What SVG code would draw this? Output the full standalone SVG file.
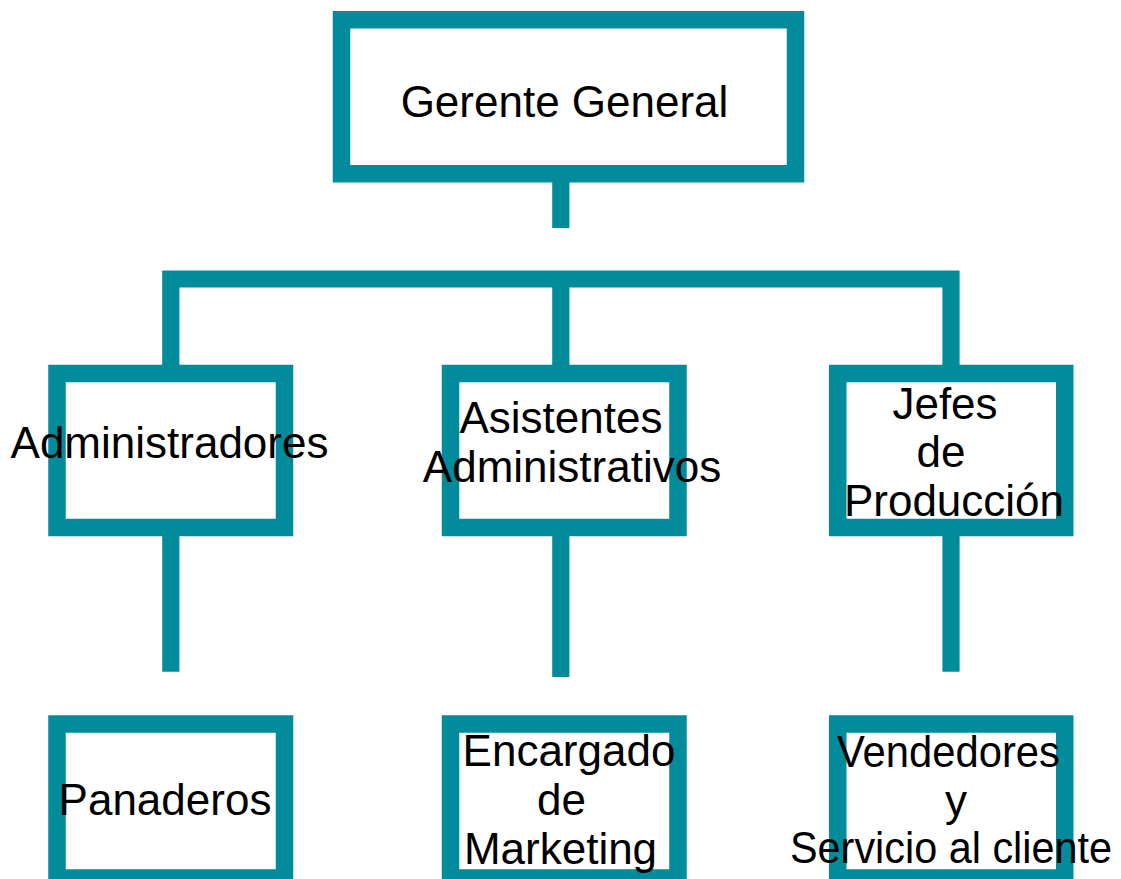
<svg xmlns="http://www.w3.org/2000/svg" width="1121" height="879" viewBox="0 0 1121 879">
<style>
.box{fill:#ffffff;stroke:#028B9B;stroke-width:17.5;}
.ln{fill:none;stroke:#028B9B;stroke-width:17.2;stroke-linejoin:miter;stroke-linecap:butt;}
.t{font-family:"Liberation Sans",Arial,sans-serif;font-size:44px;fill:#000000;text-anchor:middle;}
</style>
<rect width="1121" height="879" fill="#ffffff"/>
<g id="connectors">
<line class="ln" x1="560.8" y1="182" x2="560.8" y2="228"/>
<path class="ln" d="M170.8,365 V279 H951 V365"/>
<line class="ln" x1="560.8" y1="279" x2="560.8" y2="365"/>
<line class="ln" x1="170.8" y1="536" x2="170.8" y2="671.7"/>
<line class="ln" x1="560.8" y1="536" x2="560.8" y2="677"/>
<line class="ln" x1="951" y1="536" x2="951" y2="671.7"/>
</g>
<g id="gerente">
<rect class="box" x="341.5" y="19.75" width="454" height="154"/>
<text class="t" x="564.5" y="117">Gerente General</text>
</g>
<g id="administradores">
<rect class="box" x="57" y="373.5" width="227.5" height="154"/>
<text class="t" x="169.5" y="457.5">Administradores</text>
</g>
<g id="asistentes">
<rect class="box" x="450.5" y="373.5" width="227.5" height="154"/>
<text class="t" x="561" y="433">Asistentes</text>
<text class="t" x="572" y="482">Administrativos</text>
</g>
<g id="jefes">
<rect class="box" x="837.75" y="373.5" width="227" height="154"/>
<text class="t" x="945" y="418.5">Jefes</text>
<text class="t" x="941" y="467">de</text>
<text class="t" x="954" y="516">Producción</text>
</g>
<g id="panaderos">
<rect class="box" x="57" y="724" width="227.5" height="154"/>
<text class="t" x="165" y="814.5">Panaderos</text>
</g>
<g id="encargado">
<rect class="box" x="450.5" y="724" width="227.5" height="154"/>
<text class="t" x="569" y="766">Encargado</text>
<text class="t" x="561.5" y="815">de</text>
<text class="t" x="560.5" y="864">Marketing</text>
</g>
<g id="vendedores">
<rect class="box" x="837.75" y="724" width="227" height="154"/>
<text class="t" x="948.5" y="766.5" textLength="223" lengthAdjust="spacingAndGlyphs">Vendedores</text>
<text class="t" x="956" y="816">y</text>
<text class="t" x="951" y="863" textLength="322" lengthAdjust="spacingAndGlyphs">Servicio al cliente</text>
</g>
</svg>
